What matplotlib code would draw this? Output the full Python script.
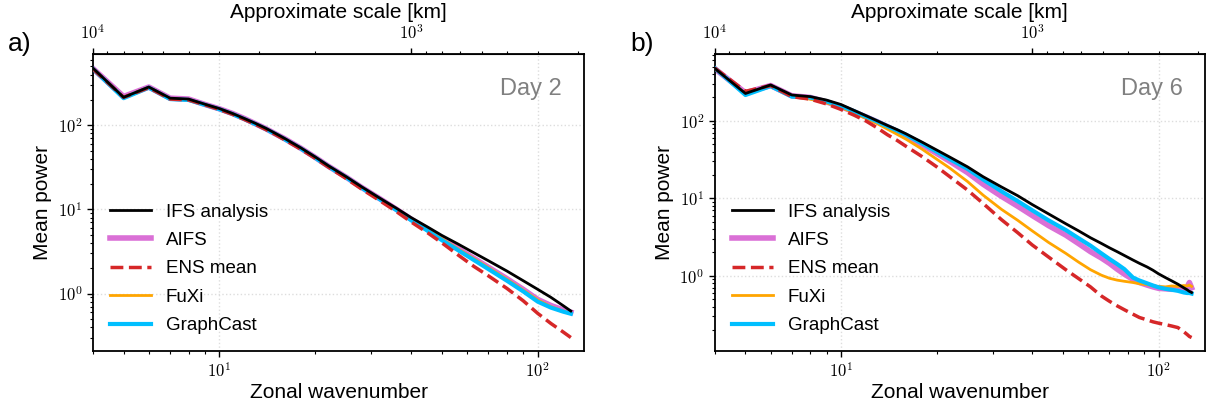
import numpy as np
import matplotlib
matplotlib.use("Agg")
import matplotlib.pyplot as plt
from matplotlib.ticker import FuncFormatter

plt.rcParams['font.family'] = ['Liberation Sans', 'DejaVu Sans']
plt.rcParams['mathtext.fontset'] = 'cm'

# zonal wavenumbers
k_a = [4, 5, 6, 7, 8, 9, 10, 11, 12, 13, 14, 15, 16, 18, 20, 22, 25, 28, 32, 36,
       40, 45, 50, 56, 63, 70, 80, 90, 100, 110, 120, 127]
k_b = [4, 5, 6, 7, 8, 9, 10, 11, 12, 13, 14, 15, 16, 18, 20, 22, 25, 28, 32, 36,
       40, 45, 51, 56, 61, 66, 70, 74, 78, 83, 87, 92, 96, 100, 105, 110, 115, 120,
       123, 125, 127]

# Day 2
ifs_a = [480, 215, 285, 210, 205, 178, 158, 138, 120, 105, 92, 80, 70, 54, 42, 33, 24.5, 18.5, 13.5, 10.3,
         8.0, 6.2, 4.9, 3.9, 3.05, 2.45, 1.85, 1.42, 1.12, 0.9, 0.72, 0.62]
aifs_a = [475, 220, 285, 210, 205, 177, 157, 138, 120, 104, 91, 79, 69.5, 53.5, 41.5, 32.6, 24.2, 18.2, 13.3, 10.0,
          7.65, 5.8, 4.5, 3.45, 2.62, 2.05, 1.5, 1.12, 0.85, 0.72, 0.64, 0.6]
ens_a = [470, 215, 280, 205, 200, 175, 154, 135, 117, 102, 89, 77.5, 67.5, 52, 40.5, 31.8, 23.3, 17.4, 12.6, 9.4,
         7.1, 5.3, 4.0, 2.9, 2.1, 1.62, 1.15, 0.82, 0.58, 0.44, 0.35, 0.3]
fuxi_a = [470, 215, 280, 205, 200, 176, 156, 137, 119, 103.5, 90.5, 79, 69, 53.5, 41.5, 32.5, 24.2, 18.2, 13.2, 10.0,
          7.6, 5.8, 4.48, 3.42, 2.6, 2.03, 1.48, 1.1, 0.84, 0.7, 0.62, 0.58]
graphcast_a = [470, 210, 280, 205, 200, 175, 155, 136, 118, 103, 90, 78.5, 68.5, 53, 41, 32.3, 24, 18, 13.1, 9.8,
               7.45, 5.6, 4.3, 3.3, 2.5, 1.95, 1.42, 1.06, 0.8, 0.68, 0.61, 0.575]

# Day 6
ifs_b = [475, 225, 290, 215, 205, 185, 162, 136, 116, 100, 87, 77, 68, 53, 42, 34, 25.5, 19.0, 14.0, 10.8,
         8.3, 6.3, 4.7, 3.8, 3.1, 2.62, 2.3, 2.05, 1.83, 1.6, 1.45, 1.3, 1.18, 1.06, 0.95, 0.86, 0.78, 0.7,
         0.66, 0.63, 0.61]
aifs_b = [470, 230, 285, 210, 200, 175, 152, 130, 112, 97, 84, 73, 64, 49, 38, 30, 21.5, 15.2, 10.6, 7.9,
          6.0, 4.45, 3.35, 2.6, 2.05, 1.7, 1.45, 1.22, 1.05, 0.9, 0.82, 0.76, 0.72, 0.69, 0.68, 0.67, 0.68, 0.68,
          0.72, 0.82, 0.7]
ens_b = [480, 240, 285, 205, 190, 165, 140, 118, 99, 81, 66, 56, 47, 34.5, 25.5, 19, 12.8, 8.6, 5.3, 3.6,
         2.5, 1.75, 1.2, 0.92, 0.72, 0.55, 0.47, 0.41, 0.365, 0.32, 0.29, 0.27, 0.255, 0.245, 0.235, 0.225, 0.215, 0.19,
         0.175, 0.165, 0.16]
fuxi_b = [470, 225, 280, 205, 190, 170, 148, 126, 107, 92, 78, 67, 58, 43, 32, 24.5, 16.5, 11.0, 7.2, 5.2,
          3.8, 2.7, 1.95, 1.5, 1.2, 1.02, 0.93, 0.88, 0.85, 0.82, 0.79, 0.77, 0.74, 0.73, 0.72, 0.74, 0.73, 0.75,
          0.74, 0.76, 0.73]
graphcast_b = [480, 215, 280, 205, 200, 178, 155, 133, 113, 98, 85, 75, 66, 51, 40, 32, 24, 17.5, 12.3, 9.2,
               7.0, 5.2, 3.9, 3.05, 2.45, 1.95, 1.65, 1.42, 1.22, 0.95, 0.87, 0.8, 0.75, 0.71, 0.68, 0.66, 0.64, 0.61,
               0.6, 0.6, 0.59]

km_ticks = [1e4, 1e3]


def k2km(k):
    k = np.asarray(k, dtype=float)
    with np.errstate(divide='ignore'):
        return 40000.0 / k


def pow_label(v, pos):
    return r'$10^{%d}$' % int(round(np.log10(v)))


def draw_panel(ax, k, ifs, aifs, ens, fuxi, graphcast, day, letter):
    ax.plot(k, aifs, color='orchid', lw=4, label='AIFS', zorder=2)
    ax.plot(k, fuxi, color='orange', lw=2, label='FuXi', zorder=3)
    ax.plot(k, graphcast, color='deepskyblue', lw=3, label='GraphCast', zorder=4)
    ax.plot(k, ens, color='tab:red', lw=2.5, ls='--', label='ENS mean', zorder=4.5)
    ax.plot(k, ifs, color='black', lw=2, label='IFS analysis', zorder=5)
    ax.set_xscale('log')
    ax.set_yscale('log')
    ax.set_xlim(4, 140)
    ax.grid(True, which='major', color='#dddddd', ls=':', lw=1)
    ax.set_xlabel('Zonal wavenumber', fontsize=15, labelpad=2)
    ax.set_ylabel('Mean power', fontsize=15)
    ax.xaxis.set_major_formatter(FuncFormatter(pow_label))
    ax.yaxis.set_major_formatter(FuncFormatter(pow_label))
    ax.tick_params(which='major', labelsize=12, length=4, width=1)
    ax.tick_params(which='minor', length=2.5, width=0.8)
    for s in ax.spines.values():
        s.set_linewidth(1.3)

    secax = ax.secondary_xaxis('top', functions=(k2km, k2km))
    secax.set_xticks(km_ticks)
    secax.xaxis.set_major_formatter(FuncFormatter(pow_label))
    secax.set_xlabel('Approximate scale [km]', fontsize=15, labelpad=4)
    secax.tick_params(which='major', labelsize=12, length=4, width=1, pad=5)
    secax.tick_params(which='minor', length=2.5, width=0.8)

    ax.text(0.955, 0.92, day, transform=ax.transAxes, ha='right', va='top',
            fontsize=17, color='gray')

    h, l = ax.get_legend_handles_labels()
    order = [4, 0, 3, 1, 2]
    ax.legend([h[i] for i in order], [l[i] for i in order], loc='lower left',
              frameon=False, fontsize=13.5, handlelength=2.2, labelspacing=0.6,
              bbox_to_anchor=(0.0, 0.0))
    ax.text(-0.172, 1.035, letter, transform=ax.transAxes, fontsize=19, ha='left', va='center')


fig = plt.figure(figsize=(12.06, 4.04), dpi=100)
ax1 = fig.add_axes([0.0769, 0.1312, 0.4076, 0.7339])
ax2 = fig.add_axes([0.5926, 0.1312, 0.4066, 0.7339])

draw_panel(ax1, k_a, ifs_a, aifs_a, ens_a, fuxi_a, graphcast_a, 'Day 2', 'a)')
draw_panel(ax2, k_b, ifs_b, aifs_b, ens_b, fuxi_b, graphcast_b, 'Day 6', 'b)')

fig.savefig('out.png', dpi=100)
